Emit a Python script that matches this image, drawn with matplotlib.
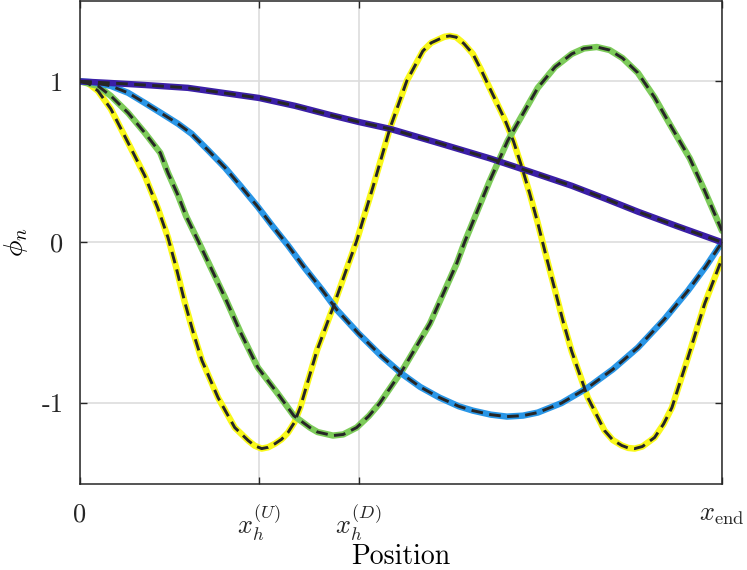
import numpy as np
import matplotlib
matplotlib.use("Agg")
import matplotlib.pyplot as plt

plt.rcParams['font.family'] = ['cmr10', 'DejaVu Serif']
plt.rcParams['mathtext.fontset'] = 'cm'
plt.rcParams['axes.unicode_minus'] = False

# mode shapes (x normalised so that x_end = 1)
x1 = [0, 0.044, 0.10, 0.168, 0.279, 0.335, 0.389, 0.434, 0.483, 0.560, 0.638,
      0.70, 0.766, 0.82, 0.869, 0.93, 1.0]
phi1 = [1.0, 0.991, 0.978, 0.960, 0.897, 0.848, 0.792, 0.748, 0.705, 0.615, 0.522,
        0.44, 0.351, 0.268, 0.190, 0.100, 0.0]

x2 = [0, 0.02, 0.048, 0.075, 0.101, 0.126, 0.153, 0.174, 0.20, 0.226, 0.25, 0.277,
      0.30, 0.324, 0.35, 0.378, 0.40, 0.434, 0.47, 0.501, 0.53, 0.560, 0.59, 0.612,
      0.64, 0.665, 0.69, 0.713, 0.75, 0.791, 0.83, 0.869, 0.91, 0.947, 0.975, 1.0]
phi2 = [1.0, 0.995, 0.972, 0.929, 0.866, 0.804, 0.736, 0.674, 0.57, 0.463, 0.35, 0.22,
        0.10, -0.02, -0.16, -0.301, -0.42, -0.568, -0.71, -0.817, -0.90, -0.966, -1.02, -1.047,
        -1.072, -1.084, -1.078, -1.059, -1.0, -0.904, -0.79, -0.655, -0.48, -0.301, -0.15, 0.0]

x3 = [0, 0.028, 0.048, 0.075, 0.101, 0.125, 0.137, 0.153, 0.165, 0.185, 0.226, 0.25,
      0.277, 0.308, 0.333, 0.358, 0.37, 0.394, 0.41, 0.431, 0.45, 0.467, 0.503, 0.545,
      0.587, 0.599, 0.638, 0.666, 0.713, 0.74, 0.766, 0.785, 0.805, 0.825, 0.845, 0.869,
      0.895, 0.922, 0.95, 0.973, 1.0]
phi3 = [1.0, 0.972, 0.910, 0.804, 0.680, 0.556, 0.432, 0.289, 0.165, 0.0, -0.345, -0.56,
        -0.779, -0.941, -1.078, -1.152, -1.18, -1.202, -1.195, -1.152, -1.08, -1.0, -0.79, -0.506,
        -0.13, 0.0, 0.38, 0.630, 0.960, 1.09, 1.171, 1.205, 1.214, 1.195, 1.145, 1.053,
        0.90, 0.711, 0.52, 0.320, 0.071]

x4 = [0, 0.012, 0.028, 0.048, 0.075, 0.101, 0.121, 0.137, 0.15, 0.163, 0.177, 0.190,
      0.215, 0.241, 0.262, 0.272, 0.283, 0.293, 0.304, 0.314, 0.324, 0.334, 0.343, 0.369,
      0.394, 0.416, 0.431, 0.456, 0.483, 0.509, 0.534, 0.547, 0.560, 0.568, 0.576, 0.586,
      0.598, 0.612, 0.625, 0.638, 0.650, 0.662, 0.675, 0.688, 0.70, 0.713, 0.725, 0.740,
      0.753, 0.766, 0.791, 0.817, 0.830, 0.844, 0.854, 0.864, 0.876, 0.895, 0.909, 0.922,
      0.947, 0.973, 1.0]
phi4 = [1.0, 0.991, 0.941, 0.829, 0.618, 0.413, 0.215, 0.03, -0.16, -0.37, -0.57, -0.736,
        -0.966, -1.152, -1.233, -1.265, -1.283, -1.275, -1.252, -1.225, -1.183, -1.12, -1.028, -0.674,
        -0.407, -0.158, 0.009, 0.339, 0.711, 1.003, 1.189, 1.24, 1.264, 1.278, 1.283, 1.275,
        1.235, 1.171, 1.07, 0.960, 0.86, 0.76, 0.63, 0.47, 0.31, 0.12, -0.07, -0.30,
        -0.50, -0.68, -0.966, -1.171, -1.23, -1.264, -1.279, -1.283, -1.27, -1.214, -1.13, -1.028,
        -0.717, -0.382, -0.102]

xticks = [0, 0.279, 0.434, 1.0]
xticklabels = ['0', r'$x_h^{(U)}$', r'$x_h^{(D)}$', r'$x_{\mathrm{end}}$']
yticks = [-1, 0, 1]
yticklabels = ['-1', '0', '1']

colors = ['#3b1fa6', '#2a96e6', '#7dcb5a', '#f9f81a']
modes = [(x1, phi1), (x2, phi2), (x3, phi3), (x4, phi4)]

fig = plt.figure(figsize=(7.47, 5.7), dpi=100)
ax = fig.add_axes([80 / 747, 86.5 / 570, 642 / 747, 482.5 / 570])

for (xs, ys), c in reversed(list(zip(modes, colors))):
    ax.plot(xs, ys, color=c, lw=4.6, solid_capstyle='round', solid_joinstyle='round')
for xs, ys in reversed(modes):
    ax.plot(xs, ys, color='#262626', lw=2.1, dashes=(4, 2.2))

ax.set_xlim(0, 1)
ax.set_ylim(-1.5, 1.5)
ax.set_xticks(xticks)
ax.set_xticklabels(xticklabels)
ax.set_yticks(yticks)
ax.set_yticklabels(yticklabels)
ax.tick_params(direction='in', length=5, width=1, colors='#262626',
               top=True, right=True, labelsize=19, pad=12)
ax.tick_params(axis='x', pad=14)
ax.grid(True, color='#dddddd', lw=1.2)
ax.set_axisbelow(True)
for s in ax.spines.values():
    s.set_color('#262626')
    s.set_linewidth(1.1)

ax.set_xlabel('Position', fontsize=20, va='baseline')
ax.xaxis.set_label_coords(0.5, -0.166)
ax.set_ylabel(r'$\phi_n$', fontsize=20, labelpad=8)

fig.savefig('out.png', dpi=100)
